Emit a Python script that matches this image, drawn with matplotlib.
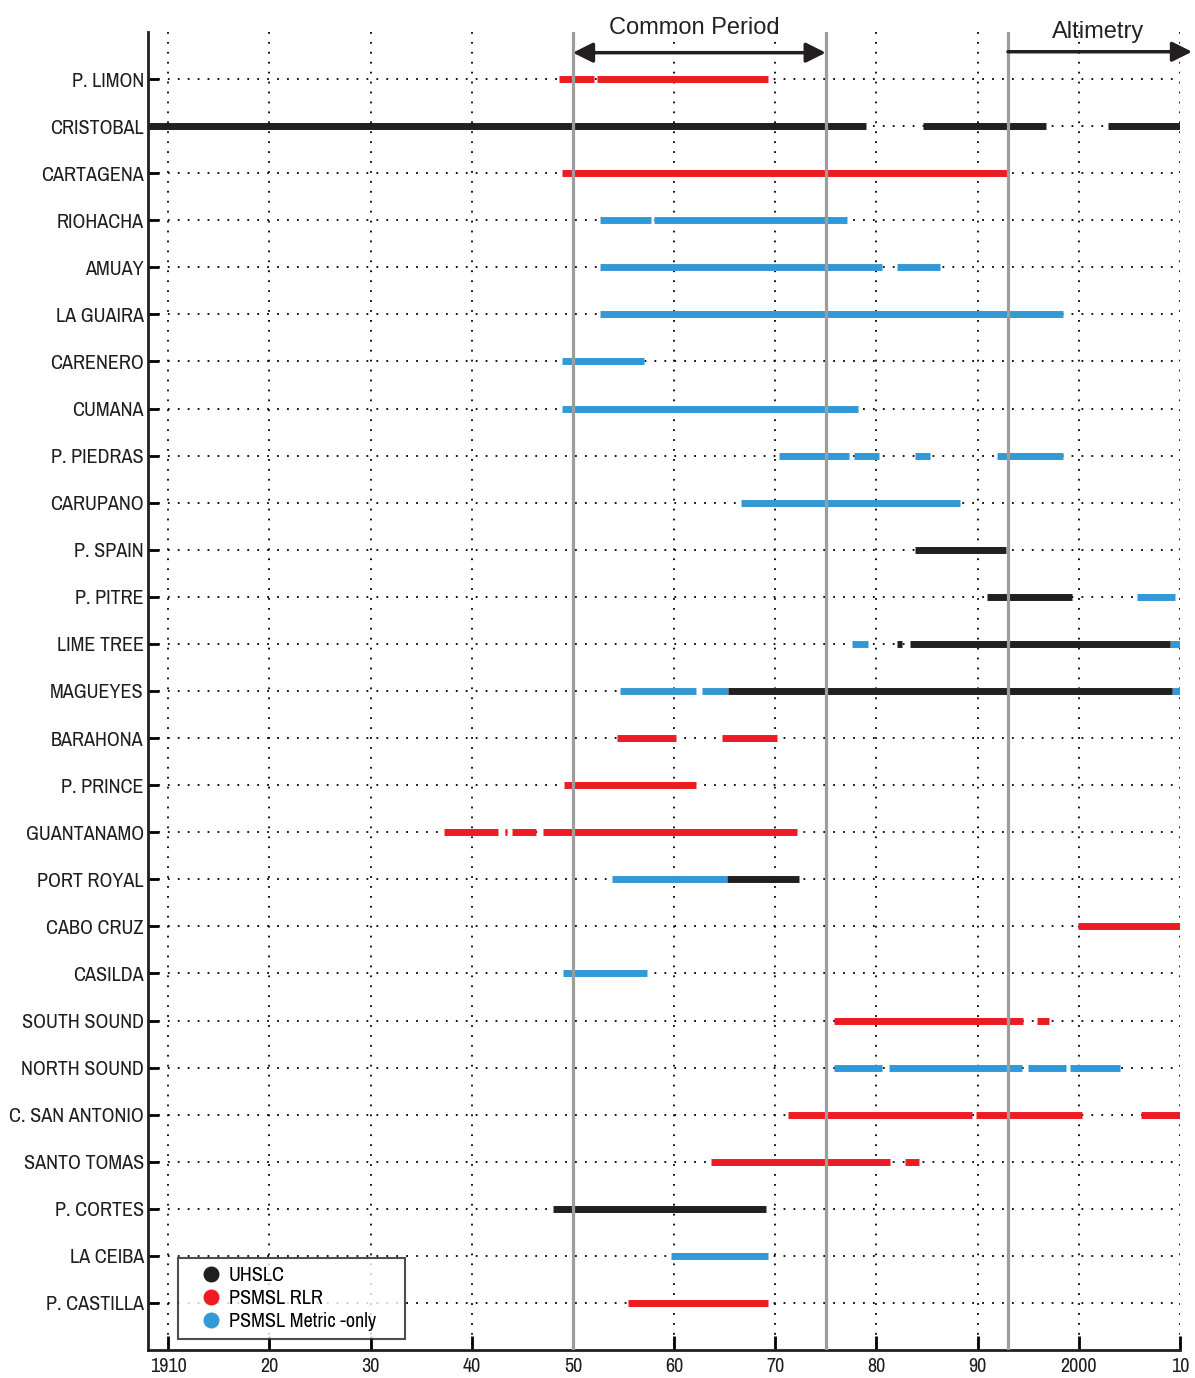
import matplotlib
matplotlib.use("Agg")
import matplotlib.pyplot as plt
from matplotlib import font_manager
from matplotlib.lines import Line2D

stations = ["P. LIMON", "CRISTOBAL", "CARTAGENA", "RIOHACHA", "AMUAY", "LA GUAIRA",
            "CARENERO", "CUMANA", "P. PIEDRAS", "CARUPANO", "P. SPAIN", "P. PITRE",
            "LIME TREE", "MAGUEYES", "BARAHONA", "P. PRINCE", "GUANTANAMO", "PORT ROYAL",
            "CABO CRUZ", "CASILDA", "SOUTH SOUND", "NORTH SOUND", "C. SAN ANTONIO",
            "SANTO TOMAS", "P. CORTES", "LA CEIBA", "P. CASTILLA"]

# record periods (start year, end year) per source
uhslc = {
    "CRISTOBAL": [(1908, 1979.0), (1984.6, 1996.8), (2002.9, 2010)],
    "P. SPAIN": [(1983.8, 1992.8)],
    "P. PITRE": [(1990.9, 1999.3)],
    "LIME TREE": [(1982.0, 1982.5), (1983.3, 2009.0)],
    "MAGUEYES": [(1965.3, 2009.2)],
    "PORT ROYAL": [(1965.2, 1972.3)],
    "P. CORTES": [(1948.0, 1969.1)],
}
psmsl_rlr = {
    "P. LIMON": [(1948.6, 1952.1), (1952.4, 1969.3)],
    "CARTAGENA": [(1948.9, 1992.9)],
    "BARAHONA": [(1954.4, 1960.2), (1964.7, 1970.2)],
    "P. PRINCE": [(1949.1, 1962.2)],
    "GUANTANAMO": [(1937.3, 1942.6), (1943.3, 1943.5), (1944.0, 1946.4), (1947.0, 1972.2)],
    "CABO CRUZ": [(1999.9, 2010)],
    "SOUTH SOUND": [(1975.8, 1994.5), (1995.9, 1997.1)],
    "C. SAN ANTONIO": [(1971.3, 1989.4), (1989.8, 2000.3), (2006.2, 2010)],
    "SANTO TOMAS": [(1963.7, 1981.3), (1982.8, 1984.2)],
    "P. CASTILLA": [(1955.4, 1969.3)],
}
psmsl_metric = {
    "RIOHACHA": [(1952.7, 1957.7), (1958.0, 1977.1)],
    "AMUAY": [(1952.7, 1980.6), (1982.0, 1986.3)],
    "LA GUAIRA": [(1952.7, 1998.4)],
    "CARENERO": [(1948.9, 1957.0)],
    "CUMANA": [(1948.9, 1978.2)],
    "P. PIEDRAS": [(1970.4, 1977.3), (1977.8, 1980.3), (1983.8, 1985.3), (1991.9, 1998.4)],
    "CARUPANO": [(1966.6, 1988.3)],
    "P. PITRE": [(2005.8, 2009.5)],
    "LIME TREE": [(1977.6, 1979.2), (2009.0, 2010)],
    "MAGUEYES": [(1954.7, 1962.2), (1962.8, 1965.3), (2009.2, 2010)],
    "PORT ROYAL": [(1953.9, 1965.2)],
    "CASILDA": [(1949.0, 1957.3)],
    "NORTH SOUND": [(1975.8, 1980.6), (1981.2, 1994.4), (1995.0, 1998.75), (1999.1, 2004.1)],
    "LA CEIBA": [(1959.7, 1969.3)],
}

year_ticks = list(range(1910, 2011, 10))
year_labels = ["1910", "20", "30", "40", "50", "60", "70", "80", "90", "2000", "10"]
period_lines = [1950, 1975, 1993]

BLACK = '#231F20'
RED = '#ED1C24'
BLUE = '#3399D6'
GREY = '#9D9D9D'

# look for a narrow face for the station names, the original uses one
narrow = None
for f in font_manager.fontManager.ttflist:
    if 'Narrow' in f.name or 'Condensed' in f.name:
        narrow = dict(family=f.name, stretch='normal')
        break
if narrow is None:
    for f in font_manager.fontManager.ttflist:
        if f.stretch in ('condensed', 'semi-condensed') and f.name != 'DejaVu Sans Mono':
            narrow = dict(family=f.name, stretch=f.stretch)
            break
if narrow is None:
    narrow = dict(family='Liberation Sans', stretch='normal')
    lab_size = 12
else:
    lab_size = 14.5

plt.rcParams['font.family'] = [narrow['family'], 'DejaVu Sans']
plt.rcParams['font.stretch'] = narrow['stretch']

fig = plt.figure(figsize=(11.95, 13.78), dpi=100)
ax = fig.add_axes([0.1238, 0.0203, 0.8636, 0.9565])

ax.set_xlim(1908, 2010)
ax.set_ylim(len(stations), -1)

# dotted grid
for i in range(len(stations)):
    ax.plot([1908, 2010], [i, i], color='black', lw=1.3, ls=(0, (1, 4.5)), zorder=1)
for x in year_ticks:
    ax.plot([x, x], [-1, len(stations)], color='black', lw=1.3, ls=(0, (1, 4.5)), zorder=1)

for source, color in [(psmsl_metric, BLUE), (psmsl_rlr, RED), (uhslc, BLACK)]:
    for name, segs in source.items():
        y = stations.index(name)
        for s, e in segs:
            ax.hlines(y, s, e, color=color, lw=5, zorder=3, capstyle='butt')

for x in period_lines:
    ax.axvline(x, color=GREY, lw=2.3, zorder=4)

# period arrows
ax.annotate('', xy=(1950, -0.56), xytext=(1975, -0.56),
            arrowprops=dict(arrowstyle='<|-|>', lw=2.5, color=BLACK,
                            mutation_scale=30, shrinkA=0, shrinkB=0),
            annotation_clip=False, zorder=5)
ax.annotate('', xy=(2011.2, -0.58), xytext=(1993, -0.58),
            arrowprops=dict(arrowstyle='-|>', lw=2.5, color=BLACK,
                            mutation_scale=30, shrinkA=0, shrinkB=0),
            annotation_clip=False, zorder=5)
ax.text(1962.0, -1.08, "Common Period", ha='center', va='center', fontsize=17,
        family=['Liberation Sans', 'DejaVu Sans'], stretch='normal',
        color='#222222', clip_on=False)
ax.text(2001.9, -1.0, "Altimetry", ha='center', va='center', fontsize=17,
        family=['Liberation Sans', 'DejaVu Sans'], stretch='normal',
        color='#222222', clip_on=False)

ax.set_yticks(range(len(stations)))
ax.set_yticklabels(stations, fontsize=lab_size, color='#1e1e1e')
ax.set_xticks(year_ticks)
ax.set_xticklabels(year_labels, fontsize=lab_size, color='#1e1e1e')
ax.tick_params(axis='y', direction='in', length=8, width=2, pad=3)
ax.tick_params(axis='x', direction='in', length=10, width=2, pad=5)

for side in ['top', 'right']:
    ax.spines[side].set_visible(False)
for side in ['left', 'bottom']:
    ax.spines[side].set_linewidth(2)
    ax.spines[side].set_color(BLACK)

handles = [Line2D([], [], ls='none', marker='o', markersize=10.5, color=c, markeredgecolor=c)
           for c in (BLACK, RED, BLUE)]
leg = ax.legend(handles, ["UHSLC", "PSMSL RLR", "PSMSL Metric -only"],
                loc='lower left', bbox_to_anchor=(0.029, 0.0083, 0.22, 0.06),
                mode='expand', borderaxespad=0,
                fontsize=lab_size, frameon=True, fancybox=False, handletextpad=-0.35,
                labelspacing=0.22, borderpad=0.38, handlelength=2.5)
leg.get_frame().set_edgecolor(BLACK)
leg.get_frame().set_linewidth(1.5)
leg.set_zorder(6)

fig.savefig('out.png', dpi=100)
